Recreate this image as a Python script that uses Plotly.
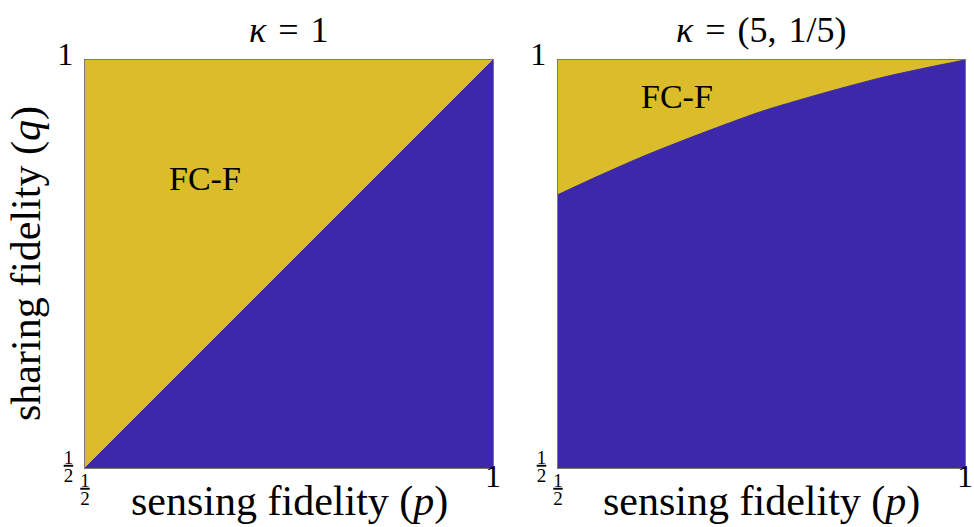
import plotly.graph_objects as go

# ---- data ----
P_LEFT = [0.5, 1.0]
Q_LEFT = [0.5, 1.0]
P_RIGHT = [0.5, 0.55, 0.6, 0.65, 0.7, 0.75, 0.8, 0.85, 0.9, 0.95, 1.0]
Q_RIGHT = [0.835, 0.858, 0.880, 0.900, 0.919, 0.937, 0.952, 0.966, 0.979, 0.990, 1.0]
TITLES = ["<i>κ</i>\u2004=\u20041", "<i>κ</i>\u2004=\u2004(5,\u20041/5)"]
TICK_VALS = [0.5, 1.0]
TICK_TEXT = ["<span style='font-size:19px'><u>1</u></span><br><span style='font-size:19px'>2</span>",
             "<span style='font-size:32px'>1</span>"]
REGION_LABEL = "FC-F"
X_TITLE = "sensing fidelity (<i>p</i>)"
Y_TITLE = "sharing fidelity (<i>q</i>)"

# ---- style ----
YELLOW = "rgb(219,188,42)"
BLUE = "rgb(60,40,168)"
FONT = "Liberation Serif"
W, H = 974, 527
LEFT_PX = (85, 493)
RIGHT_PX = (558, 965)
TOP_PX, BOT_PX = 60, 468

def px_dom(a, b):
    return [a / W, b / W]

ydom = [(H - BOT_PX) / H, (H - TOP_PX) / H]

fig = go.Figure()

panels = [
    ("x", "y", P_LEFT, Q_LEFT),
    ("x2", "y2", P_RIGHT, Q_RIGHT),
]
for xa, ya, P, Q in panels:
    # blue region: everything below the boundary (yellow is the panel background)
    fig.add_trace(go.Scatter(
        x=P, y=Q, xaxis=xa, yaxis=ya,
        fill="tozeroy", fillcolor=BLUE, mode="lines",
        line=dict(color=BLUE, width=1, shape="spline", smoothing=0.8),
        hoverinfo="skip", showlegend=False))

axis_common = dict(
    range=[0.5, 1.0], showgrid=False, zeroline=False, showline=True, mirror=True,
    linecolor="#7a7a7a", linewidth=1, ticks="", tickvals=TICK_VALS, ticktext=TICK_TEXT,
    tickfont=dict(family=FONT, size=14, color="black"), fixedrange=True,
    automargin=False,
)

fig.update_layout(
    width=W, height=H, margin=dict(l=0, r=0, t=0, b=0, pad=0, autoexpand=False),
    paper_bgcolor="white", plot_bgcolor=YELLOW,
    xaxis=dict(domain=px_dom(*LEFT_PX), anchor="y", ticklabelstandoff=1, **axis_common),
    yaxis=dict(domain=ydom, anchor="x", ticklabelstandoff=8, **axis_common),
    xaxis2=dict(domain=px_dom(*RIGHT_PX), anchor="y2", ticklabelstandoff=1, **axis_common),
    yaxis2=dict(domain=ydom, anchor="x2", ticklabelstandoff=8, **axis_common),
    font=dict(family=FONT, color="black"),
)

# titles
for i, (a, b) in enumerate([LEFT_PX, RIGHT_PX]):
    fig.add_annotation(text=TITLES[i], xref="paper", yref="paper",
                       x=(a + b) / 2 / W, y=(H - 30) / H, showarrow=False,
                       xanchor="center", yanchor="middle",
                       font=dict(family=FONT, size=36, color="black"))
    fig.add_annotation(text=X_TITLE, xref="paper", yref="paper",
                       x=(a + b) / 2 / W, y=0, showarrow=False,
                       xanchor="center", yanchor="bottom",
                       font=dict(family=FONT, size=42, color="black"))

fig.add_annotation(text=Y_TITLE, xref="paper", yref="paper",
                   x=26 / W, y=(H - 264) / H, showarrow=False, textangle=-90,
                   xanchor="center", yanchor="middle",
                   font=dict(family=FONT, size=42, color="black"))

# region labels
for xr, yr, xv, yv in [("x", "y", 0.647, 0.855), ("x2", "y2", 0.646, 0.955)]:
    fig.add_annotation(text=REGION_LABEL, xref=xr, yref=yr, x=xv, y=yv,
                       showarrow=False, xanchor="center", yanchor="middle",
                       font=dict(family=FONT, size=34, color="black"))

fig.write_html(
    "out.html",
    config={"displayModeBar": False, "staticPlot": True},
    post_script="document.body.style.margin='0px';document.body.style.overflow='hidden';",
)
